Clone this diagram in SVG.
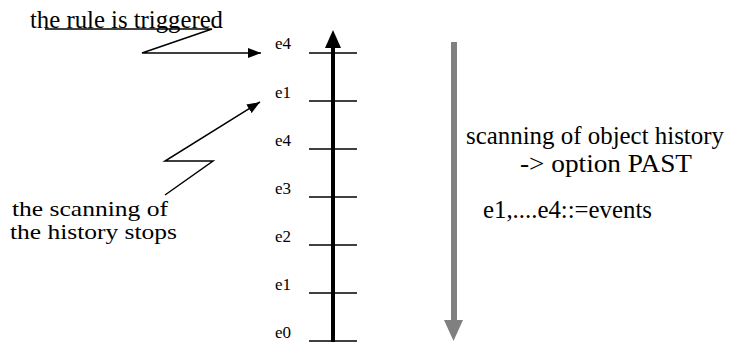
<svg xmlns="http://www.w3.org/2000/svg" width="732" height="349" viewBox="0 0 732 349">
<style>
text{fill:#000}
.big{font-size:25px}
.note{font-size:22px}
.ev{font-size:17px}
.tick{stroke:#000;stroke-width:1.5}
.conn{fill:none;stroke:#000;stroke-width:1.5}
</style>
<defs>
<marker id="ah" markerUnits="userSpaceOnUse" markerWidth="14" markerHeight="10" refX="13" refY="5" orient="auto">
<path d="M0,0 L13,5 L0,10 z" fill="#000"/>
</marker>
</defs>
<rect width="732" height="349" fill="#fff"/>
<g id="timeline">
<line x1="333" y1="46" x2="333" y2="342" stroke="#000" stroke-width="4"/>
<path d="M333,30 L341,48 L325,48 z" fill="#000"/>
<line class="tick" x1="309" y1="53" x2="357" y2="53"/>
<line class="tick" x1="309" y1="101" x2="357" y2="101"/>
<line class="tick" x1="309" y1="149" x2="357" y2="149"/>
<line class="tick" x1="309" y1="197" x2="357" y2="197"/>
<line class="tick" x1="309" y1="245" x2="357" y2="245"/>
<line class="tick" x1="309" y1="293" x2="357" y2="293"/>
<line class="tick" x1="309" y1="341" x2="357" y2="341"/>
</g>
<g font-family="'Liberation Serif', 'Times New Roman', 'DejaVu Serif', serif">
<g id="labels">
<text class="ev" x="275" y="49">e4</text>
<text class="ev" x="275" y="98">e1</text>
<text class="ev" x="275" y="146">e4</text>
<text class="ev" x="275" y="194">e3</text>
<text class="ev" x="275" y="242">e2</text>
<text class="ev" x="275" y="290">e1</text>
<text class="ev" x="275" y="338">e0</text>
</g>
<g id="note-triggered">
<text class="big" x="30" y="28" textLength="193" lengthAdjust="spacingAndGlyphs">the rule is triggered</text>
</g>
<g id="note-stops">
<text class="note" x="12" y="216" textLength="156" lengthAdjust="spacingAndGlyphs">the scanning of</text>
<text class="note" x="10" y="239" textLength="167" lengthAdjust="spacingAndGlyphs">the history stops</text>
</g>
<g id="note-scan">
<text class="big" x="466" y="144" textLength="258" lengthAdjust="spacingAndGlyphs">scanning of object history</text>
<text class="big" x="520" y="172" textLength="172" lengthAdjust="spacingAndGlyphs">-&gt; option PAST</text>
<text class="big" x="483" y="218" textLength="169" lengthAdjust="spacingAndGlyphs">e1,....e4::=events</text>
</g>
</g>
<g id="scan-arrow">
<line x1="454" y1="42" x2="454" y2="321" stroke="#808080" stroke-width="6"/>
<path d="M444,320 L463,320 L453.5,341 z" fill="#808080"/>
</g>
<g id="connectors">
<polyline class="conn" points="45,29 212,29 142,53 261,53" marker-end="url(#ah)"/>
<polyline class="conn" points="165,195 213,161 165,161 260,102" marker-end="url(#ah)"/>
</g>
</svg>
